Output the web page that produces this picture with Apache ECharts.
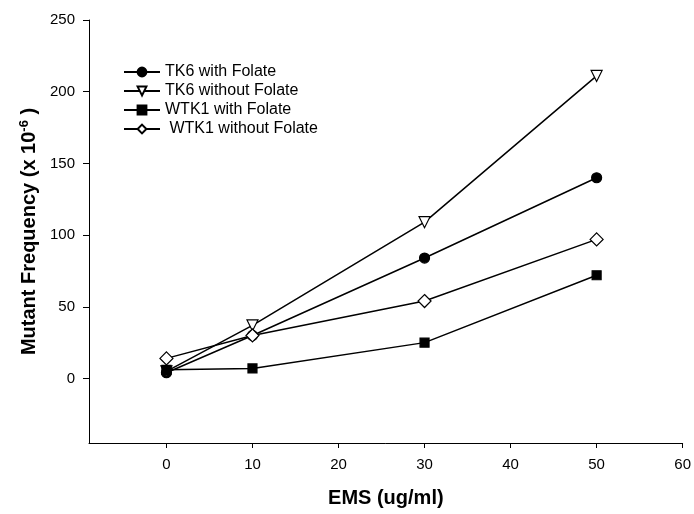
<!DOCTYPE html>
<html>
<head>
<meta charset="utf-8">
<script src="https://cdn.jsdelivr.net/npm/echarts@6/dist/echarts.min.js"></script>
<style>
  html, body { margin: 0; padding: 0; background: #fff; }
  #main { width: 694px; height: 514px; }
</style>
</head>
<body>
<div id="main"></div>
<script>
const ems = [0, 10, 30, 50];
const xTicks = [0, 10, 20, 30, 40, 50, 60];
const yTicks = [0, 50, 100, 150, 200, 250];

const tk6With = [4, 30, 84, 140];
const tk6Without = [5, 37, 109, 211];
const wtk1With = [6, 7, 25, 72];
const wtk1Without = [14, 30, 54, 97];

const seriesNames = ['TK6 with Folate', 'TK6 without Folate', 'WTK1 with Folate', ' WTK1 without Folate'];

const chart = echarts.init(document.getElementById('main'));

function pairs(vals) {
  return ems.map((x, i) => [x, vals[i]]);
}

function lineSeries(name, vals, symbol, size, fill, rotate) {
  return {
    name: name,
    type: 'line',
    data: pairs(vals),
    symbol: symbol,
    symbolSize: size,
    symbolRotate: rotate || 0,
    showAllSymbol: true,
    lineStyle: { color: '#000', width: 1.5 },
    itemStyle: { color: fill, borderColor: '#000', borderWidth: 1.2 },
    emphasis: { disabled: true },
    animation: false
  };
}

const font = 'Liberation Sans, Arial, sans-serif';
const axisFont = { fontFamily: font, color: '#000' };

const option = {
  backgroundColor: '#fff',
  grid: { left: 89, right: 9, top: 20, bottom: 71 },
  legend: {
    orient: 'vertical',
    left: 118,
    top: 59,
    itemGap: 3,
    itemWidth: 36,
    itemHeight: 11,
    data: seriesNames,
    textStyle: { fontSize: 16, fontFamily: font, color: '#000' }
  },
  xAxis: {
    type: 'value',
    min: -9,
    max: 60,
    name: 'EMS (ug/ml)',
    nameLocation: 'middle',
    nameGap: 45,
    nameTextStyle: Object.assign({ fontSize: 20, fontWeight: 'bold' }, axisFont),
    splitLine: { show: false },
    axisLine: { onZero: false, lineStyle: { color: '#000', width: 1 } },
    axisTick: { customValues: xTicks, length: 5, lineStyle: { color: '#000' } },
    axisLabel: Object.assign({ customValues: xTicks, fontSize: 15, margin: 14 }, axisFont)
  },
  yAxis: {
    type: 'value',
    min: -45,
    max: 250,
    name: 'Mutant Frequency (x 10{sup|-6} )',
    nameLocation: 'middle',
    nameGap: 46,
    nameTextStyle: Object.assign({
      fontSize: 20,
      fontWeight: 'bold',
      rich: { sup: { fontSize: 13, fontWeight: 'bold', verticalAlign: 'top', padding: [0, 0, 10, 0], fontFamily: font } }
    }, axisFont),
    splitLine: { show: false },
    axisLine: { show: true, onZero: false, lineStyle: { color: '#000', width: 1 } },
    axisTick: { customValues: yTicks, length: 6, lineStyle: { color: '#000' } },
    axisLabel: Object.assign({ customValues: yTicks, fontSize: 15, margin: 14 }, axisFont)
  },
  series: [
    lineSeries(seriesNames[0], tk6With, 'circle', 10, '#000'),
    lineSeries(seriesNames[1], tk6Without, 'triangle', 11, '#fff', 180),
    lineSeries(seriesNames[2], wtk1With, 'rect', 9, '#000'),
    lineSeries(seriesNames[3], wtk1Without, 'diamond', 13, '#fff')
  ]
};

chart.setOption(option);
</script>
</body>
</html>
